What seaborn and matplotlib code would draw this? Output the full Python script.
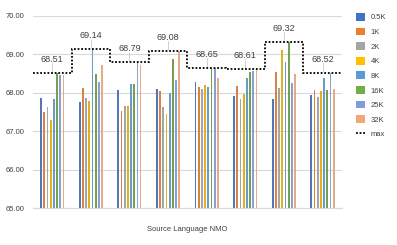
import numpy as np
import pandas as pd
import matplotlib
matplotlib.use('Agg')
import matplotlib.pyplot as plt
import seaborn as sns
from matplotlib.patches import Patch
from matplotlib.lines import Line2D

# data
sizes = ['0.5K', '1K', '2K', '4K', '8K', '16K', '25K', '32K']
groups = ['G1', 'G2', 'G3', 'G4', 'G5', 'G6', 'G7', 'G8']
g1 = [67.86, 67.49, 67.63, 67.30, 67.84, 68.51, 68.47, 68.45]
g2 = [67.75, 68.12, 67.86, 67.79, 69.14, 68.49, 68.27, 68.73]
g3 = [68.07, 67.53, 67.66, 67.66, 68.23, 68.23, 68.79, 68.72]
g4 = [68.10, 68.05, 67.62, 67.46, 67.98, 68.87, 68.32, 69.08]
g5 = [68.29, 68.14, 68.09, 68.20, 68.14, 68.65, 68.63, 68.39]
g6 = [67.92, 68.18, 67.84, 67.96, 68.39, 68.55, 68.57, 68.61]
g7 = [67.84, 68.55, 68.13, 69.11, 68.80, 69.32, 68.26, 68.49]
g8 = [67.94, 68.08, 67.89, 68.05, 68.37, 68.07, 68.52, 68.10]
max_vals = [68.51, 69.14, 68.79, 69.08, 68.65, 68.61, 69.32, 68.52]

colors = ['#4472C4', '#ED7D31', '#A5A5A5', '#FFC000',
          '#5B9BD5', '#70AD47', '#7F9ED8', '#F4A67A']

rows = []
for g, vals in zip(groups, [g1, g2, g3, g4, g5, g6, g7, g8]):
    for s, v in zip(sizes, vals):
        rows.append({'group': g, 'size': s, 'score': v})
df = pd.DataFrame(rows)

sns.set_style('white')
plt.rcParams['font.family'] = ['Liberation Sans', 'DejaVu Sans']

fig = plt.figure(figsize=(3.97, 2.45), dpi=100)
ax = fig.add_axes([0.083, 0.15, 0.778, 0.786])

sns.barplot(data=df, x='group', y='score', hue='size', order=groups,
            hue_order=sizes, palette=colors, width=0.66, gap=0.45,
            ax=ax, legend=False, linewidth=0)

ax.set_ylim(65, 70)
ax.set_xlim(-0.5, 7.5)
ax.set_yticks([65, 66, 67, 68, 69, 70])
ax.set_yticklabels(['%.2f' % t for t in [65, 66, 67, 68, 69, 70]], fontsize=5.5, color='#404040')
ax.set_xticks([])
ax.grid(axis='y', color='#D9D9D9', linewidth=0.8)
ax.set_axisbelow(True)
for sp in ['top', 'right', 'left']:
    ax.spines[sp].set_visible(False)
ax.spines['bottom'].set_color('#D9D9D9')
ax.tick_params(axis='y', length=0, pad=6)
ax.set_ylabel('')
ax.set_xlabel('Source Language NMO', fontsize=5.5, color='#404040', labelpad=13)

# max step line
edges = np.arange(len(groups) + 1) - 0.5
ax.stairs(max_vals, edges, baseline=None, color='black',
          linestyle=(0, (1, 1)), linewidth=1.3, zorder=5)
for i, m in enumerate(max_vals):
    ax.plot([i, i], [m + 0.03, m + 0.26], color='#BFBFBF', linewidth=0.5, zorder=4)
    ax.text(i, m + 0.35, '%.2f' % m, ha='center', va='center',
            fontsize=6.5, color='#404040', zorder=6)

handles = [Patch(facecolor=c, edgecolor='none') for c in colors]
handles.append(Line2D([0], [0], color='black', linestyle=(0, (1, 1)), linewidth=1.3))
fig.legend(handles, sizes + ['max'], loc='upper left', bbox_to_anchor=(0.88, 0.975),
           frameon=False, fontsize=5.5, handlelength=1.2, handleheight=1.2,
           labelspacing=0.8, handletextpad=0.7, labelcolor='#404040')

fig.savefig('out.png', dpi=100)
